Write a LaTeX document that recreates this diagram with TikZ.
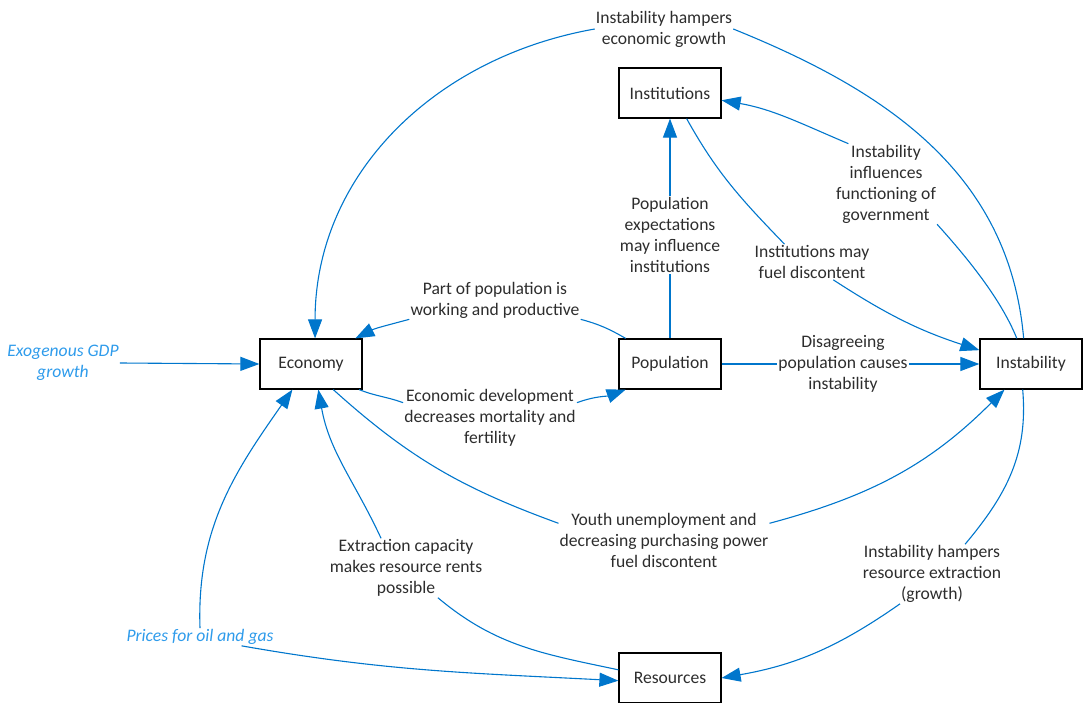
\documentclass[tikz,border=0pt]{standalone}
\usepackage{fontspec}
\setmainfont{Carlito}
\usetikzlibrary{positioning,arrows.meta}
\definecolor{linkblue}{RGB}{0,118,204}
\definecolor{extblue}{RGB}{46,155,235}
\definecolor{txtgray}{RGB}{45,45,45}
\begin{document}
\begin{tikzpicture}[x=1pt,y=1pt,
  every node/.style={font=\fontsize{17.6}{21}\selectfont, text=txtgray},
  box/.style={draw=black, line width=1.2pt, minimum width=102pt, minimum height=50pt, inner sep=0pt},
  lbl/.style={align=center, inner sep=1pt},
  ext/.style={align=center, inner sep=1pt, text=extblue, font=\fontsize{17.6}{21}\selectfont\itshape},
  link/.style={draw=linkblue, line width=1.1pt},
  arr/.style={link, -{Triangle[length=19pt,width=14pt]}}]
\useasboundingbox (0,0) rectangle (1090,-703);
\node[box] (inst) at (670,-93) {Institutions};
\node[box] (econ) at (311,-364) {Economy};
\node[box] (pop) at (670,-364) {Population};
\node[box] (instab) at (1031,-364) {Instability};
\node[box] (res) at (670,-678) {Resources};
\node[lbl] (lgrowth) at (664,-29) {Instability hampers\\economic growth};
\node[lbl] (lgov) at (886,-184) {Instability\\influences\\functioning of\\government};
\node[lbl] (lfuel) at (812,-262) {Institutions may\\fuel discontent};
\node[lbl] (lexp) at (670,-235) {Population\\expectations\\may influence\\institutions};
\node[lbl] (lwork) at (495,-300) {Part of population is\\working and productive};
\node[lbl] (ldis) at (843,-364) {Disagreeing\\population causes\\instability};
\node[lbl] (ldev) at (490,-418) {Economic development\\decreases mortality and\\fertility};
\node[lbl] (lyouth) at (664,-540) {Youth unemployment and\\decreasing purchasing power\\fuel discontent};
\node[lbl] (lextr) at (406,-568) {Extraction capacity\\makes resource rents\\possible};
\node[lbl] (lhamp) at (932,-574) {Instability hampers\\resource extraction\\(growth)};
\node[ext] (lgdp) at (63,-363) {Exogenous GDP\\growth};
\node[ext] (lprice) at (200,-637) {Prices for oil and gas};
\draw[link] (instab.106) to[out=95, in=-22] (lgrowth.east);
\draw[arr] (lgrowth.west) to[out=190, in=90] (econ.81);
\draw[link] (instab.119) to[out=112, in=-48, looseness=0.8] (lgov.south east);
\draw[arr] (lgov.133) to[out=157, in=-10] (inst.-8);
\draw[link] (inst.-57) to[out=-61, in=134] (lfuel.147);
\draw[arr] (lfuel.-40) to[out=-33, in=162] (instab.165);
\draw[link] (pop.north) -- (lexp.south);
\draw[arr] (lexp.north) -- (inst.south);
\draw[link] (pop.150) to[out=150, in=-15] (lwork.south east);
\draw[arr] (lwork.south west) to[out=195, in=27] (econ.30);
\draw[link] (pop.east) -- (ldis.west);
\draw[arr] (ldis.east) -- (instab.west);
\draw[link] (econ.-28) to[out=-22, in=160] (ldev.170);
\draw[arr] (ldev.10) to[out=20, in=200] (pop.210);
\draw[link] (econ.-49) to[out=-42, in=160] (lyouth.171);
\draw[arr] (lyouth.9) to[out=15, in=225] (instab.224);
\draw[link] (res.171) to[out=168, in=-40] (lextr.-43);
\draw[arr] (lextr.130) to[out=115, in=-80] (econ.-74);
\draw[arr] (lprice.north) to[out=92, in=235] (econ.234);
\draw[arr] (lprice.-12) to[out=-10, in=177] (res.183);
\draw[link] (instab.-108) to[out=-85, in=50] (lhamp.42);
\draw[arr] (lhamp.223) to[out=215, in=10] (res.east);
\draw[arr] (lgdp.east) -- (econ.west);
\end{tikzpicture}
\end{document}
